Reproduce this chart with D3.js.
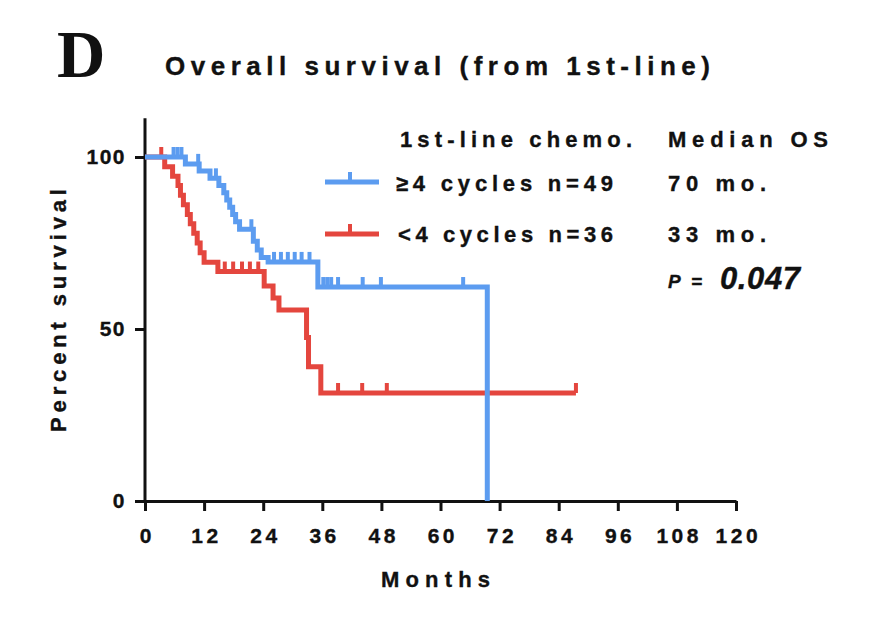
<!DOCTYPE html>
<html>
<head>
<meta charset="utf-8">
<script src="https://cdn.jsdelivr.net/npm/d3@7"></script>
<style>
body { margin: 0; background: #fff; }
text { font-family: "Liberation Sans", Arial, Helvetica, sans-serif; font-weight: bold; fill: #111; stroke: #111; stroke-width: 0.35px; }
</style>
</head>
<body>
<div id="chart"></div>
<script>
var MONTH_TICKS = [0, 12, 24, 36, 48, 60, 72, 84, 96, 108, 120];
var PCT_TICKS = [0, 50, 100];

// step points: [month, percent surviving]
var HI_STEPS = [
    [0, 100], [8.2, 98.0], [11.0, 95.9], [13.2, 93.8], [15.0, 91.7], [16.0, 89.6],
    [16.6, 87.5], [17.2, 85.4], [17.8, 83.3], [18.4, 81.2], [19.2, 79.0], [22.0, 75.5],
    [22.8, 73.0], [23.6, 70.8], [25.0, 69.5], [35.1, 62.2], [69.5, 0]
];
var HI_CENSORED = [5.8, 6.6, 7.4, 10.8, 14.4, 21.6, 26.2, 27.6, 29.0, 30.4, 31.8, 33.4,
    36.2, 37.0, 37.8, 39.2, 44.2, 47.9, 64.6];

var LO_STEPS = [
    [0, 100], [4.0, 97.2], [5.6, 94.4], [6.7, 91.7], [7.2, 88.9], [7.8, 86.1], [8.6, 83.3],
    [9.2, 80.6], [9.9, 77.8], [10.6, 75.0], [11.2, 72.2], [12.0, 69.4], [14.8, 66.7],
    [24.2, 62.5], [26.0, 59.0], [27.2, 55.5], [32.8, 47.5], [33.2, 39.0], [35.7, 31.4],
    [87.5, 31.4]
];
var LO_CENSORED = [3.3, 16.2, 17.9, 19.7, 21.3, 23.0, 39.2, 44.1, 49.1, 87.5];

var GROUPS = ['\u22654 cycles n=49', '<4 cycles n=36'];
var MEDIANS = ['70 mo.', '33 mo.'];
var COLORS = ['#5c9cf0', '#e4463e'];

var W = 870, H = 626;

var svg = d3.select('#chart').append('svg')
    .attr('width', W)
    .attr('height', H);

svg.append('rect').attr('width', W).attr('height', H).attr('fill', '#fff');

var x = d3.scaleLinear().domain([0, 120]).range([145, 736]);
var y = d3.scaleLinear().domain([0, 100]).range([501, 157]);

function levelAt(steps, t) {
    var v = steps[0][1];
    steps.forEach(function(s) { if (s[0] <= t) v = s[1]; });
    return v;
}

// axes
var xAxis = svg.append('g')
    .attr('transform', 'translate(0,' + y(0) + ')')
    .call(d3.axisBottom(x).tickValues(MONTH_TICKS).tickSize(10).tickSizeOuter(0).tickPadding(17));

var yAxis = svg.append('g')
    .attr('transform', 'translate(' + x(0) + ',0)')
    .call(d3.axisLeft(y).tickValues(PCT_TICKS).tickSize(10).tickPadding(9));
yAxis.select('.domain').remove();
yAxis.append('line')
    .attr('y1', y(0)).attr('y2', y(111.3))
    .attr('stroke', '#111').attr('stroke-width', 3);

[xAxis, yAxis].forEach(function(g) {
    g.selectAll('.domain, .tick line').attr('stroke', '#111').attr('stroke-width', 3);
    g.selectAll('.tick text')
        .attr('fill', '#111')
        .style('font-size', '21px')
        .style('font-weight', 'bold')
        .style('font-family', '"Liberation Sans", Arial, sans-serif');
});
xAxis.selectAll('.tick text').style('letter-spacing', '3.5px').attr('dx', 1.8);
yAxis.selectAll('.tick text').style('letter-spacing', '1.5px');

// curves
var line = d3.line()
    .x(function(d) { return x(d[0]); })
    .y(function(d) { return y(d[1]); })
    .curve(d3.curveStepAfter);

var series = [
    {steps: LO_STEPS, censored: LO_CENSORED, color: COLORS[1]},
    {steps: HI_STEPS, censored: HI_CENSORED, color: COLORS[0]}
];

series.forEach(function(s) {
    svg.append('path')
        .datum(s.steps)
        .attr('d', line)
        .attr('fill', 'none')
        .attr('stroke', s.color)
        .attr('stroke-width', 5);

    svg.selectAll(null)
        .data(s.censored)
        .enter()
        .append('line')
        .attr('x1', function(d) { return x(d); })
        .attr('x2', function(d) { return x(d); })
        .attr('y1', function(d) { return y(levelAt(s.steps, d)); })
        .attr('y2', function(d) { return y(levelAt(s.steps, d)) - 10; })
        .attr('stroke', s.color)
        .attr('stroke-width', 4);
});

// texts
function label(txt, px, py, size, len, opts) {
    opts = opts || {};
    var t = svg.append('text')
        .text(txt)
        .attr('x', px)
        .attr('y', py)
        .style('font-size', size + 'px');
    if (len) t.attr('textLength', len).attr('lengthAdjust', 'spacing');
    if (opts.italic) t.style('font-style', 'italic');
    if (opts.family) t.style('font-family', opts.family).style('stroke-width', 0);
    if (opts.anchor) t.attr('text-anchor', opts.anchor);
    if (opts.rotate) t.attr('transform', 'rotate(-90,' + px + ',' + py + ')');
    return t;
}

label('D', 57, 77, 67, null, {family: '"Liberation Serif", "Times New Roman", serif'});
label('Overall survival (from 1st-line)', 165, 75, 26, 545);
label('Months', 381, 587, 22, 109);
label('Percent survival', 66, 432, 22, 243, {rotate: true});

label('1st-line chemo.', 400, 147, 22, 232);
label('Median OS', 668, 147, 22, 160);

var legendY = [182, 234],
    textY = [191, 242];

GROUPS.forEach(function(g, i) {
    svg.append('line')
        .attr('x1', 325).attr('x2', 379)
        .attr('y1', legendY[i]).attr('y2', legendY[i])
        .attr('stroke', COLORS[i]).attr('stroke-width', 5);
    svg.append('line')
        .attr('x1', 350).attr('x2', 350)
        .attr('y1', legendY[i]).attr('y2', legendY[i] - 10)
        .attr('stroke', COLORS[i]).attr('stroke-width', 4);
    label(g, i === 0 ? 396 : 398, textY[i], 22, i === 0 ? 217 : 215);
    label(MEDIANS[i], 668, textY[i], 22, 98);
});

label('P =', 668, 288, 19, 34, {italic: true});
label('0.047', 720, 289, 31, 80, {italic: true});
</script>
</body>
</html>
